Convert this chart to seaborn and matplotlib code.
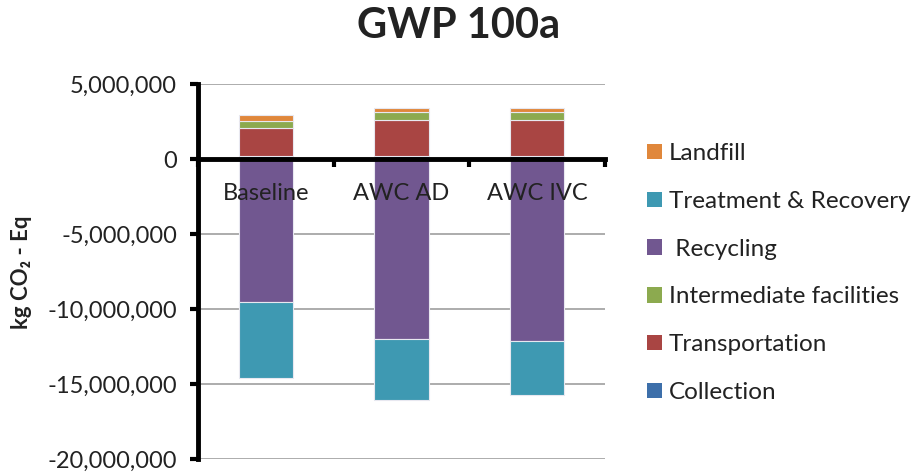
import matplotlib
matplotlib.use("Agg")
import matplotlib.pyplot as plt
import seaborn as sns
import pandas as pd
from matplotlib.patches import Patch
from matplotlib.ticker import FuncFormatter

categories = ["Baseline", "AWC AD", "AWC IVC"]
collection = [0.20e6, 0.20e6, 0.20e6]
transportation = [1.87e6, 2.42e6, 2.42e6]
intermediate = [0.45e6, 0.49e6, 0.49e6]
landfill = [0.42e6, 0.29e6, 0.29e6]
recycling = [-9.53e6, -11.98e6, -12.11e6]
treatment = [-5.05e6, -4.11e6, -3.60e6]

y_ticks = [5e6, 0, -5e6, -10e6, -15e6, -20e6]

colors = {
    "Collection": "#3D6FAA",
    "Transportation": "#A94543",
    "Intermediate facilities": "#8CAA4F",
    "Recycling": "#715790",
    "Treatment & Recovery": "#3E99B2",
    "Landfill": "#E0873B",
}

sns.set_theme(style="white")
plt.rcParams["font.family"] = ["Lato", "DejaVu Sans"]
plt.rcParams["text.color"] = "#222222"

fig = plt.figure(figsize=(9.17, 4.75), dpi=100)
ax = fig.add_axes([198 / 917, 1 - 459 / 475, (605 - 198) / 917, (459 - 84) / 475])

# stacked layers: positives stack up from zero, negatives stack down
layers = [
    ("Collection", collection),
    ("Transportation", transportation),
    ("Intermediate facilities", intermediate),
    ("Recycling", recycling),
    ("Treatment & Recovery", treatment),
    ("Landfill", landfill),
]
pos_base = [0.0] * len(categories)
neg_base = [0.0] * len(categories)
for name, vals in layers:
    bottoms = []
    for i, v in enumerate(vals):
        if v >= 0:
            bottoms.append(pos_base[i])
            pos_base[i] += v
        else:
            bottoms.append(neg_base[i])
            neg_base[i] += v
    df = pd.DataFrame({"scenario": categories, "value": vals})
    sns.barplot(data=df, x="scenario", y="value", order=categories, ax=ax,
                color=colors[name], saturation=1, width=0.4, bottom=bottoms,
                edgecolor="#e8e8f0", linewidth=0.8, errorbar=None, zorder=2)

ax.set_ylim(-20e6, 5e6)
ax.set_xlim(-0.5, 2.5)
ax.set_yticks(y_ticks)
ax.yaxis.set_major_formatter(FuncFormatter(lambda v, p: f"{int(v):,}"))
ax.set_xticks([-0.5, 0.5, 1.5, 2.5])
ax.set_xticklabels([])
ax.set_xlabel("")
ax.set_ylabel("")

ax.grid(axis="y", color="#a6a6a6", linewidth=1.3, zorder=0)
ax.set_axisbelow(True)
for s in ["top", "right"]:
    ax.spines[s].set_visible(False)
ax.spines["left"].set_color("black")
ax.spines["left"].set_linewidth(3.5)
ax.spines["bottom"].set_position(("data", 0))
ax.spines["bottom"].set_color("black")
ax.spines["bottom"].set_linewidth(3.5)
ax.spines["bottom"].set_zorder(5)
ax.tick_params(axis="y", direction="out", length=6, width=3, color="black",
               labelsize=17, labelcolor="#222222", pad=9, left=True)
ax.tick_params(axis="x", direction="out", length=6, width=3, color="black",
               bottom=True)

for i, c in enumerate(categories):
    ax.text(i, -2.3e6, c, ha="center", va="center", fontsize=17,
            color="#222222", zorder=6)

fig.text(0.5, 1 - 26 / 475, "GWP 100a", ha="center", va="center",
         fontsize=30, fontweight="bold", color="#222222")
fig.text(22 / 917, 1 - 272 / 475, "kg CO\u2082 - Eq", rotation=90,
         ha="center", va="center", fontsize=16, fontweight="bold",
         color="#222222")

legend_order = ["Landfill", "Treatment & Recovery", "Recycling",
                "Intermediate facilities", "Transportation", "Collection"]
handles = [Patch(facecolor=colors[n], edgecolor="none") for n in legend_order]
labels = [(" " + n) if n == "Recycling" else n for n in legend_order]
fig.legend(handles, labels, loc="center left",
           bbox_to_anchor=(647 / 917, 1 - 273 / 475), frameon=False,
           fontsize=17.5, labelspacing=1.1, handlelength=0.6,
           handleheight=0.6, handletextpad=0.3, borderpad=0,
           borderaxespad=0)

fig.savefig("out.png", dpi=100)
